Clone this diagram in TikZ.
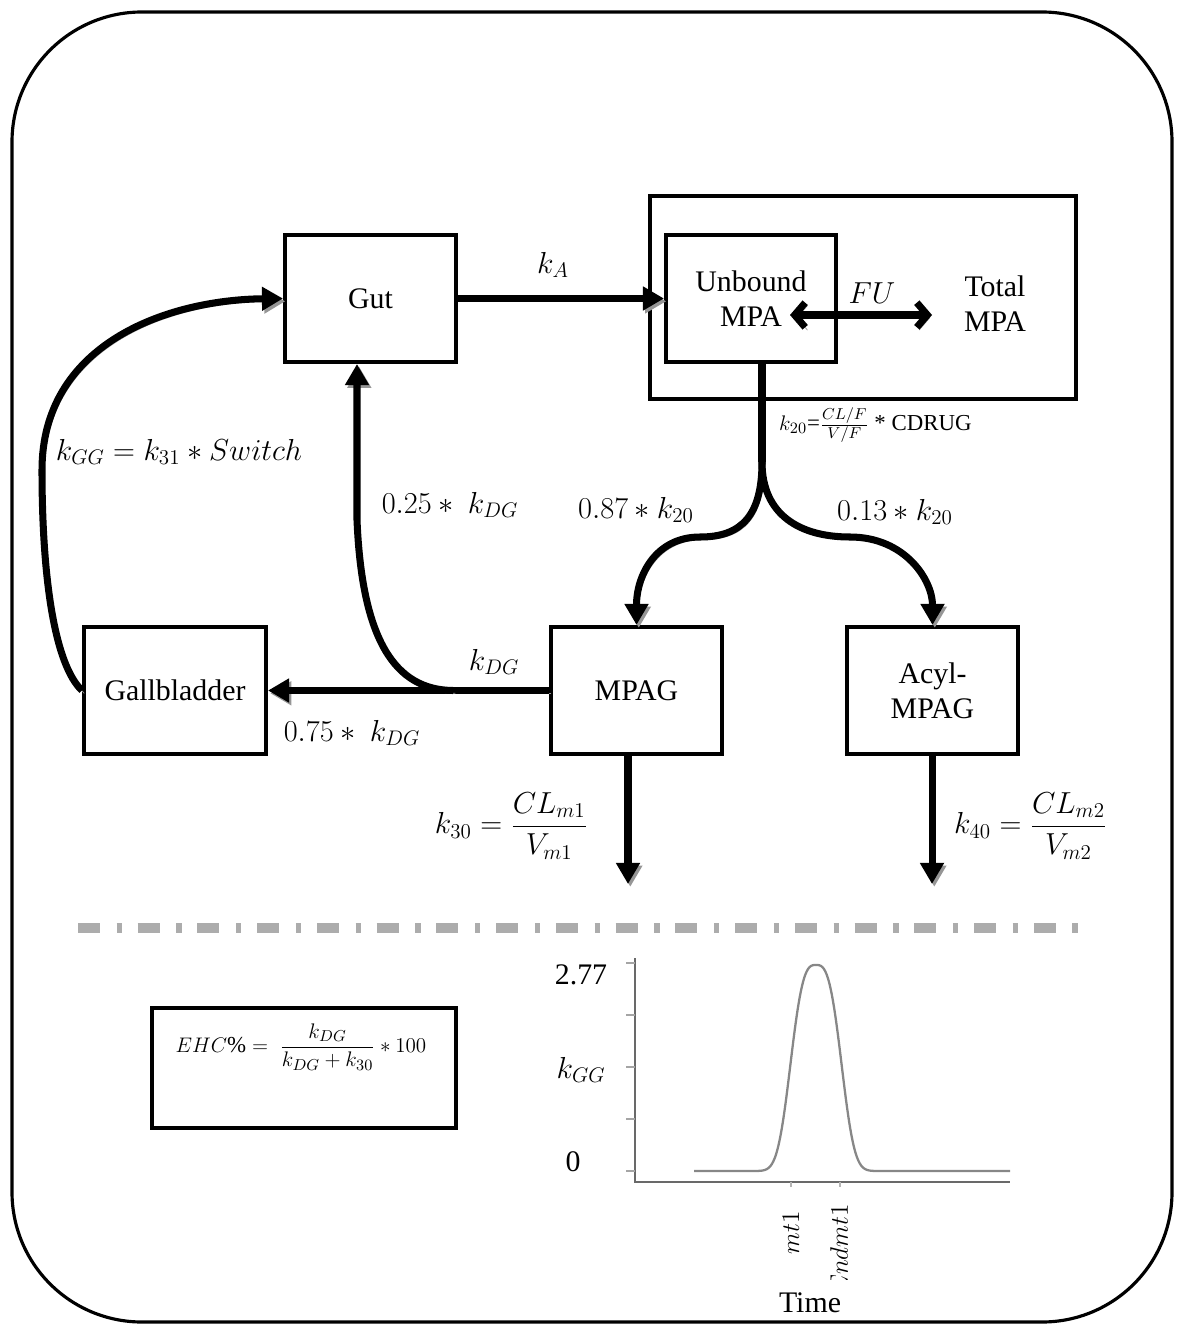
\documentclass[tikz,border=0pt]{standalone}
\usepackage{amsmath}
\usepackage{fontspec}
\setmainfont{Liberation Serif}
\usetikzlibrary{arrows.meta, calc}
\definecolor{shadowgray}{RGB}{150,150,150}
\definecolor{axisgray}{RGB}{105,105,105}
\definecolor{curvegray}{RGB}{135,135,135}
\definecolor{dashgray}{RGB}{172,172,172}
\tikzset{
  comp/.style={draw, line width=2.3pt, minimum width=3.42cm, minimum height=2.54cm, align=center},
  flowline/.style={line width=4pt, preaction={draw=shadowgray, transform canvas={shift={(1.3pt,-1.6pt)}}}},
  arrowtip/.style={-{Triangle[length=12pt, width=13pt]}},
  barb/.style={{Straight Barb[length=6pt, width=14pt]}-{Straight Barb[length=6pt, width=14pt]}},
  small/.style={font=\fontsize{13}{15}\selectfont}
}

\begin{document}
\begin{tikzpicture}[x=0.02cm, y=-0.02cm, font=\fontsize{17}{20}\selectfont]
  \useasboundingbox (0,0) rectangle (1184,1334);
  \draw[line width=1.8pt, rounded corners=2.6cm] (12,12) rectangle (1172,1322);

  % compartments
  \node[comp] (gut) at (370.5,298.5) {Gut};
  \node[comp, minimum width=8.52cm, minimum height=4.06cm] (plasma) at (863,297.5) {};
  \node[comp, minimum width=3.4cm] (unb) at (751,298.5) {Unbound\\MPA};
  \node[align=center] (total) at (995,304) {Total\\MPA};
  \node[comp, minimum width=3.64cm] (gb) at (175,690.5) {Gallbladder};
  \node[comp] (mpag) at (636.5,690.5) {MPAG};
  \node[comp] (acyl) at (932.5,690.5) {Acyl-\\MPAG};

  % absorption and binding
  \draw[flowline, arrowtip] (gut.east) -- (unb.west);
  \node (lka) at (553,265) {$k_A$};
  \coordinate (fuL) at (790,315);
  \coordinate (fuR) at (932,315);
  \draw[flowline, barb] (fuL) -- (fuR);
  \node (lfu) at (872,293) {$FU$};

  % metabolism split
  \coordinate (split) at (762,462);
  \draw[flowline] (unb.south -| split) -- (split);
  \node[small, anchor=west] (lk20) at (773,425) {$k_{20}$=$\frac{CL/F}{V/F}$ * CDRUG};
  \draw[flowline, arrowtip] (split) .. controls (762,515) and (742,537) .. (700,537)
    .. controls (656,537) and (636.5,575) .. (mpag.north);
  \draw[flowline, arrowtip] (split) .. controls (762,515) and (800,537) .. (850,537)
    .. controls (905,537) and (932.5,580) .. (acyl.north);
  \node (l087) at (636,510) {$0.87 \ast k_{20}$};
  \node (l013) at (895,512) {$0.13 \ast k_{20}$};

  % biliary recycling
  \draw[flowline, arrowtip] (mpag.west) -- (gb.east);
  \coordinate (kdgj) at (453,690.5);
  \coordinate (upturn) at (357,520);
  \draw[flowline, arrowtip] (kdgj) .. controls (395,690) and (362,640) .. (upturn) -- (gut.south -| upturn);
  \coordinate (loop) at (42,470);
  \draw[flowline, arrowtip] (gb.west) .. controls (55,665) and (42,580) .. (loop)
    .. controls (42,345) and (165,300) .. (gut.west);
  \node (lkdg) at (494,662) {$k_{DG}$};
  \node (l075) at (352,733) {$0.75 \ast\ k_{DG}$};
  \node (l025) at (450,505) {$0.25 \ast\ k_{DG}$};
  \node (lkgg) at (179,452) {$k_{GG} = k_{31} \ast Switch$};

  % elimination
  \coordinate (m1out) at (628,884);
  \coordinate (m2out) at (932,884);
  \draw[flowline, arrowtip] (mpag.south -| m1out) -- (m1out);
  \draw[flowline, arrowtip] (acyl.south -| m2out) -- (m2out);
  \node[anchor=east] (lk30) at (594,826) {$k_{30} = \dfrac{CL_{m1}}{V_{m1}}$};
  \node[anchor=west] (lk40) at (948,826) {$k_{40} = \dfrac{CL_{m2}}{V_{m2}}$};

  \draw[dashgray, line width=6pt, dash pattern=on 12.5pt off 9.5pt on 3pt off 9pt] (78,928) -- (1088,928);

  % EHC box
  \node[draw, line width=2.3pt, minimum width=6.08cm, minimum height=2.4cm] (ehcbox) at (304,1068) {};
  \node[small] (ehc) at (301,1047) {$EHC\% =\ \dfrac{k_{DG}}{k_{DG}+k_{30}} \ast 100$};

  % switch profile
  \draw[axisgray, line width=1.5pt] (635,958) -- (635,1182) -- (1010,1182);
  \foreach \ty in {963,1015,1067,1119,1171}
    \draw[axisgray!60, line width=0.6pt] (626,\ty) -- (635,\ty);
  \foreach \tx in {791,840}
    \draw[axisgray!50, line width=0.6pt] (\tx,1182) -- (\tx,1187);
  \draw[curvegray, line width=1.3pt, domain=694:1010, samples=220, smooth]
    plot (\x, {1171-206*exp(-min((abs(\x-816)/29.4)^3,15))});
  \node (ltop) at (581,975) {2.77};
  \node (lkggax) at (581,1070) {$k_{GG}$};
  \node (lzero) at (573,1162) {0};
  \node[rotate=90, anchor=east, font=\fontsize{15}{18}\selectfont] (lmt) at (791,1205) {$mt1$};
  \begin{scope}
    \clip (815,1190) rectangle (865,1279);
    \node[rotate=90, anchor=east, font=\fontsize{15}{18}\selectfont] (lend) at (839,1198) {$Endmt1$};
  \end{scope}
  \node (ltime) at (810,1303) {Time};
\end{tikzpicture}
\end{document}
